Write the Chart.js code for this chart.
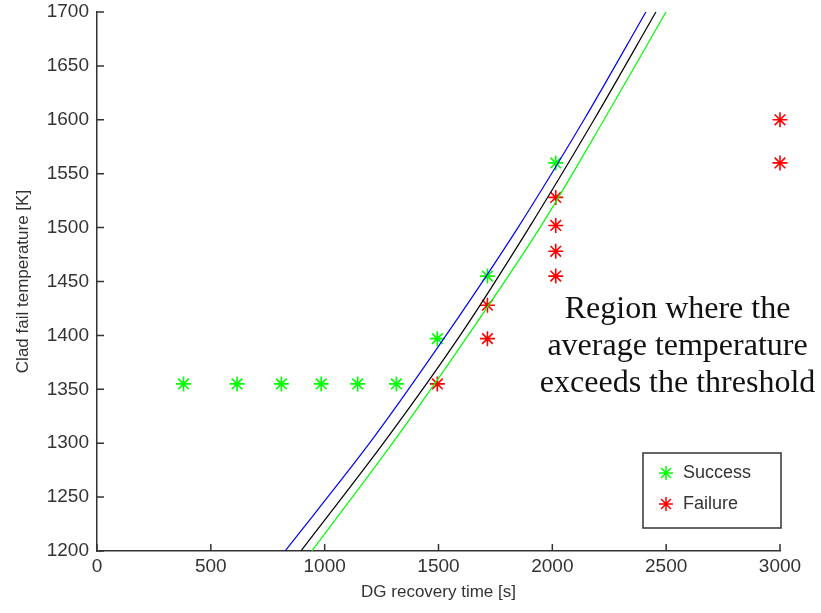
<!DOCTYPE html>
<html>
<head>
<meta charset="utf-8">
<script src="https://cdn.jsdelivr.net/npm/chart.js@4.4.0/dist/chart.umd.min.js"></script>
<style>
  html, body { margin: 0; padding: 0; background: #fff; }
  #wrap { width: 821px; height: 613px; }
</style>
</head>
<body>
<div id="wrap"><canvas id="chart" width="821" height="613"></canvas></div>
<script>
// DATA -------------------------------------------
var successX = [380, 615, 810, 985, 1145, 1315, 1495, 1715, 2015];
var successY = [1355, 1355, 1355, 1355, 1355, 1355, 1397, 1455, 1560];
var failureX = [1495, 1715, 1715, 2015, 2015, 2015, 2015, 3000, 3000];
var failureY = [1355, 1397, 1428, 1455, 1478, 1502, 1528, 1560, 1600];

// threshold curves (x read at each temperature)
var curveY = [1200, 1300, 1400, 1500, 1600, 1700];
var blueX = [826, 1197, 1533, 1849, 2139, 2411];
var blackX = [896, 1258, 1595, 1898, 2183, 2455];
var greenX = [944, 1298, 1630, 1946, 2227, 2499];

var xTicks = [0, 500, 1000, 1500, 2000, 2500, 3000];
var yTicks = [1200, 1250, 1300, 1350, 1400, 1450, 1500, 1550, 1600, 1650, 1700];

var regionText = ["Region where the", "average temperature", "exceeds the threshold"];
var legendNames = ["Success", "Failure"];

function toPoints(xs, ys) {
  var pts = [];
  for (var i = 0; i < xs.length; i++) pts.push({x: xs[i], y: ys[i]});
  return pts;
}

var textColor = "#333";

// inward ticks like matlab
var inTicks = {
  id: "inTicks",
  afterDraw: function(chart) {
    var ctx = chart.ctx;
    var xs = chart.scales.x, ys = chart.scales.y;
    var area = chart.chartArea;
    ctx.save();
    ctx.strokeStyle = "#333";
    ctx.lineWidth = 1.5;
    ctx.beginPath();
    xTicks.forEach(function(v) {
      var px = xs.getPixelForValue(v);
      ctx.moveTo(px, area.bottom);
      ctx.lineTo(px, area.bottom - 7);
    });
    yTicks.forEach(function(v) {
      var py = ys.getPixelForValue(v);
      ctx.moveTo(area.left, py);
      ctx.lineTo(area.left + 7, py);
    });
    ctx.stroke();
    ctx.restore();
  }
};

// text + legend box
var extras = {
  id: "extras",
  afterDraw: function(chart) {
    var ctx = chart.ctx;
    var area = chart.chartArea;
    var xs = chart.scales.x, ys = chart.scales.y;
    ctx.save();

    // region text
    ctx.fillStyle = "#111";
    ctx.font = '32px "Liberation Serif", "Times New Roman", serif';
    ctx.textAlign = "center";
    ctx.textBaseline = "alphabetic";
    var cx = xs.getPixelForValue(2550);
    var baseY = ys.getPixelForValue(1416);
    regionText.forEach(function(t, i) {
      ctx.fillText(t, cx, baseY + i * 37);
    });

    // legend
    var bw = 138, bh = 75;
    var bx = area.right + 1 - bw, by = area.bottom - 23 - bh;
    ctx.fillStyle = "#fff";
    ctx.fillRect(bx, by, bw, bh);
    ctx.strokeStyle = "#333";
    ctx.lineWidth = 1.5;
    ctx.strokeRect(bx, by, bw, bh);

    var cols = ["#00ff00", "#ff0000"];
    ctx.font = '18px "Liberation Sans", Arial, sans-serif';
    ctx.textAlign = "left";
    ctx.textBaseline = "middle";
    for (var i = 0; i < legendNames.length; i++) {
      var ly = by + 20 + i * 31;
      ctx.strokeStyle = cols[i];
      ctx.fillStyle = cols[i];
      ctx.lineWidth = 1.5;
      Chart.helpers.drawPoint(ctx, {pointStyle: "star", radius: 7, borderWidth: 1.5}, bx + 23, ly);
      ctx.fillStyle = textColor;
      ctx.fillText(legendNames[i], bx + 40, ly);
    }
    ctx.restore();
  }
};

var lineDs = function(xs, col) {
  return {
    type: "line",
    data: toPoints(xs, curveY),
    borderColor: col,
    borderWidth: 1.2,
    pointRadius: 0,
    fill: false,
    tension: 0.3
  };
};

var starDs = function(name, xs, ys, col) {
  return {
    label: name,
    data: toPoints(xs, ys),
    pointStyle: "star",
    pointRadius: 7.5,
    borderColor: col,
    backgroundColor: col,
    pointBorderWidth: 1.6,
    showLine: false,
    clip: false
  };
};

var plainLabel = function(v) { return String(v); };

var config = {
  type: "scatter",
  data: {
    datasets: [
      lineDs(blueX, "#0000ff"),
      lineDs(blackX, "#000000"),
      lineDs(greenX, "#00ff00"),
      starDs("Success", successX, successY, "#00ff00"),
      starDs("Failure", failureX, failureY, "#ff0000")
    ]
  },
  options: {
    responsive: false,
    animation: false,
    devicePixelRatio: 1,
    layout: { padding: { top: 12, right: 41, left: 0, bottom: 0 } },
    plugins: {
      legend: { display: false },
      tooltip: { enabled: false }
    },
    scales: {
      x: {
        type: "linear",
        min: 0, max: 3000,
        afterBuildTicks: function(s) { s.ticks = xTicks.map(function(v) { return {value: v}; }); },
        afterFit: function(s) { s.height = 62; },
        grid: { drawOnChartArea: false, drawTicks: false },
        border: { display: true, color: "#333", width: 1.5 },
        ticks: { color: textColor, padding: 4, font: { family: "Liberation Sans", size: 19 }, maxRotation: 0, callback: plainLabel },
        title: { display: true, text: "DG recovery time [s]", color: textColor,
                 font: { family: "Liberation Sans", size: 17 }, padding: { top: 0, bottom: 10 } }
      },
      y: {
        type: "linear",
        min: 1200, max: 1700,
        afterBuildTicks: function(s) { s.ticks = yTicks.map(function(v) { return {value: v}; }); },
        afterFit: function(s) { s.width = 97; s.paddingTop = 0; s.paddingBottom = 0; },
        grid: { drawOnChartArea: false, drawTicks: false },
        border: { display: true, color: "#333", width: 1.5 },
        ticks: { color: textColor, padding: 8, font: { family: "Liberation Sans", size: 19 }, callback: plainLabel },
        title: { display: true, text: "Clad fail temperature [K]", color: textColor,
                 font: { family: "Liberation Sans", size: 17 }, padding: { top: 13, bottom: 0 } }
      }
    }
  },
  plugins: [inTicks, extras]
};

var myChart = new Chart(document.getElementById("chart"), config);
</script>
</body>
</html>
